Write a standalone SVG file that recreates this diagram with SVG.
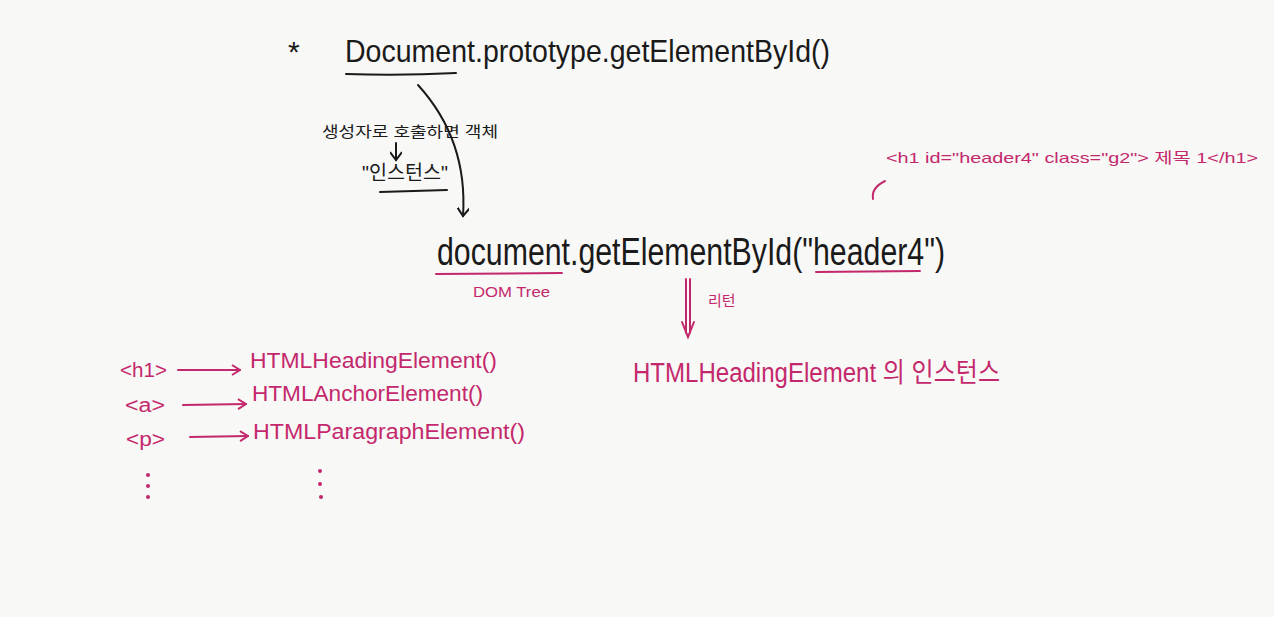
<svg xmlns="http://www.w3.org/2000/svg" width="1274" height="617" viewBox="0 0 1274 617">
<defs>
<style>
.k{fill:#1a1a1a;font-family:"Liberation Sans","Noto Sans CJK KR",sans-serif}
.m{fill:#c4286c;font-family:"Liberation Sans","Noto Sans CJK KR",sans-serif}
.ls{stroke:#1a1a1a;stroke-width:2;fill:none;stroke-linecap:round}
.lm{stroke:#c4286c;stroke-width:2;fill:none;stroke-linecap:round}
</style>
<marker id="ak" viewBox="0 0 12 12" refX="10" refY="6" markerWidth="12" markerHeight="12" orient="auto" markerUnits="userSpaceOnUse"><path d="M2,0 L10,6 L2,12" stroke="#1a1a1a" stroke-width="2" fill="none"/></marker>
<marker id="am" viewBox="0 0 12 12" refX="11" refY="6" markerWidth="12" markerHeight="12" orient="auto" markerUnits="userSpaceOnUse"><path d="M3,1 L11,6 L3,11" stroke="#c4286c" stroke-width="2" fill="none"/></marker>
</defs>
<rect width="1274" height="617" fill="#f8f8f6"/>
<g id="proto">
<text class="k" x="288" y="62" font-size="30">*</text>
<text class="k" x="345" y="62" font-size="32" textLength="485" lengthAdjust="spacingAndGlyphs">Document.prototype.getElementById()</text>
<path class="ls" d="M346,74 Q400,76 456,73"/>
</g>
<g id="instance-note">
<text class="k" x="322" y="137" font-size="15" textLength="176" lengthAdjust="spacingAndGlyphs">생성자로 호출하면 객체</text>
<text class="k" x="362" y="180" font-size="20" textLength="86" lengthAdjust="spacingAndGlyphs">"인스턴스"</text>
<path class="ls" d="M380,192 L447,190"/>
</g>
<g id="call">
<text class="k" x="437" y="265" font-size="38" textLength="508" lengthAdjust="spacingAndGlyphs">document.getElementById("header4")</text>
<path class="lm" d="M436,274 L562,273"/>
<path class="lm" d="M816,272 L920,271"/>
<text class="m" x="473" y="297" font-size="14" textLength="77" lengthAdjust="spacingAndGlyphs">DOM Tree</text>
</g>
<g id="h1tag">
<text class="m" x="886" y="163" font-size="15" textLength="372" lengthAdjust="spacingAndGlyphs">&lt;h1  id="header4"  class="g2"&gt; 제목 1&lt;/h1&gt;</text>
</g>
<g id="result">
<text class="m" x="708" y="306" font-size="15">리턴</text>
<text class="m" x="633" y="382" font-size="27" textLength="367" lengthAdjust="spacingAndGlyphs">HTMLHeadingElement 의 인스턴스</text>
</g>
<g id="list">
<text class="m" x="120" y="377" font-size="20" textLength="47" lengthAdjust="spacingAndGlyphs">&lt;h1&gt;</text>
<text class="m" x="250" y="368" font-size="22" textLength="247" lengthAdjust="spacingAndGlyphs">HTMLHeadingElement()</text>
<text class="m" x="125" y="412" font-size="20" textLength="40" lengthAdjust="spacingAndGlyphs">&lt;a&gt;</text>
<text class="m" x="252" y="401" font-size="22" textLength="231" lengthAdjust="spacingAndGlyphs">HTMLAnchorElement()</text>
<text class="m" x="126" y="446" font-size="20" textLength="39" lengthAdjust="spacingAndGlyphs">&lt;p&gt;</text>
<text class="m" x="253" y="439" font-size="22" textLength="272" lengthAdjust="spacingAndGlyphs">HTMLParagraphElement()</text>
<g fill="#c4286c">
<circle cx="148" cy="475" r="2"/><circle cx="148" cy="486" r="2"/><circle cx="148" cy="497" r="2"/>
<circle cx="320" cy="471" r="2"/><circle cx="320" cy="484" r="2"/><circle cx="321" cy="497" r="2"/>
</g>
</g>
<g id="connectors">
<path class="ls" d="M418,85 Q468,140 463,216" marker-end="url(#ak)"/>
<path class="ls" d="M396,143 L396,160" marker-end="url(#ak)"/>
<path class="lm" d="M885,181 Q871,188 873,199"/>
<path class="lm" d="M686,279 L686,333 M690,279 L690,333"/>
<path class="lm" d="M682,322 L688,337 L694,322"/>
<path class="lm" d="M178,370 L240,370" marker-end="url(#am)"/>
<path class="lm" d="M183,405 L246,404" marker-end="url(#am)"/>
<path class="lm" d="M190,437 L248,436" marker-end="url(#am)"/>
</g>
</svg>
